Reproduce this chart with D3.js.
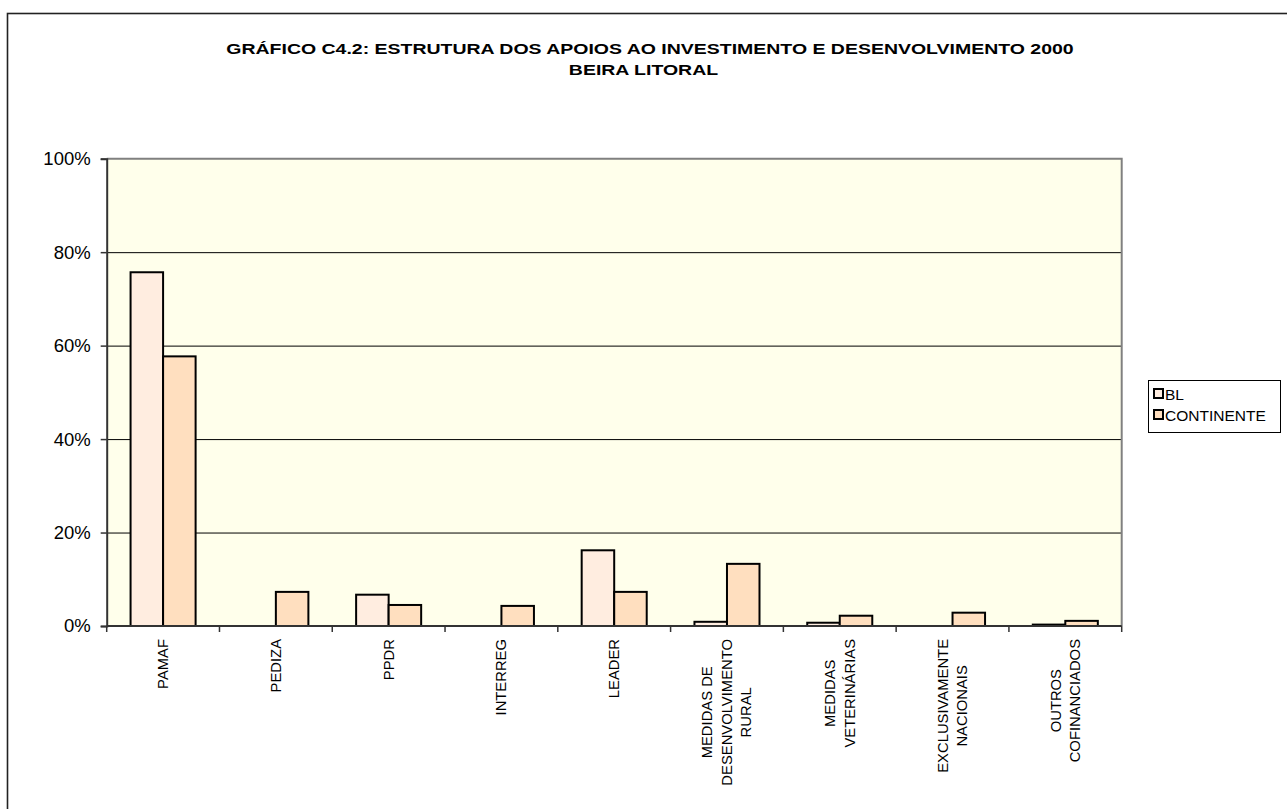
<!DOCTYPE html>
<html>
<head>
<meta charset="utf-8">
<script src="https://cdn.jsdelivr.net/npm/d3@7"></script>
<style>
  body { margin: 0; background: #fff; }
  text { font-family: "Liberation Sans", Arial, sans-serif; fill: #000; }
</style>
</head>
<body>
<div id="chart"></div>
<script>
// data (percent)
var categories = ["PAMAF", "PEDIZA", "PPDR", "INTERREG", "LEADER",
  "MEDIDAS DE|DESENVOLVIMENTO|RURAL", "MEDIDAS|VETERINÁRIAS",
  "EXCLUSIVAMENTE|NACIONAIS", "OUTROS|COFINANCIADOS"];
var seriesNames = ["BL", "CONTINENTE"];
var blValues = [75.7, 0, 6.7, 0, 16.2, 0.9, 0.7, 0, 0.3];
var contValues = [57.7, 7.3, 4.5, 4.3, 7.3, 13.3, 2.2, 2.85, 1.1];
var yTicks = [0, 20, 40, 60, 80, 100];
var titleLines = ["GRÁFICO C4.2: ESTRUTURA DOS APOIOS AO INVESTIMENTO E DESENVOLVIMENTO 2000", "BEIRA LITORAL"];

var colors = ["#FFEDE0", "#FFDFBF"];

var W = 1287, H = 809;
var plot = {left: 106.7, right: 1121.7, top: 158.7, bottom: 626};

var svg = d3.select("#chart").append("svg")
    .attr("width", W)
    .attr("height", H);

// outer chart border (runs off the page bottom/right)
svg.append("rect")
    .attr("x", 7.5).attr("y", 13.5)
    .attr("width", 1320).attr("height", 830)
    .attr("fill", "#fff")
    .attr("stroke", "#222")
    .attr("stroke-width", 1.6);

// title - the original is drawn wide, so stretch it horizontally
var titleG = svg.append("g")
    .attr("transform", "translate(650,0) scale(1.3,1)");
titleG.selectAll(".title")
    .data(titleLines)
  .enter().append("text")
    .attr("class", "title")
    .attr("x", function(d, i) { return i ? -5 : 0; })
    .attr("y", function(d, i) { return 53.8 + i * 21.5; })
    .attr("text-anchor", "middle")
    .style("font-weight", "bold")
    .style("font-size", "15px")
    .text(function(d) { return d; });

var x0 = d3.scaleBand()
    .domain(categories)
    .range([plot.left, plot.right])
    .padding(0);

var x1 = d3.scaleBand()
    .domain(seriesNames)
    .range([0, x0.bandwidth()])
    .paddingInner(0)
    .paddingOuter(0.734);

var y = d3.scaleLinear()
    .domain([0, 100])
    .range([plot.bottom, plot.top]);

// plot background
svg.append("rect")
    .attr("x", plot.left).attr("y", plot.top)
    .attr("width", plot.right - plot.left)
    .attr("height", plot.bottom - plot.top)
    .attr("fill", "#FFFFEB");

// gridlines
svg.append("g")
    .attr("transform", "translate(" + plot.left + ",0)")
    .call(d3.axisLeft(y).tickValues([20, 40, 60, 80]).tickSize(-(plot.right - plot.left)).tickFormat(""))
    .call(function(g) { g.select(".domain").remove(); })
    .selectAll("line")
    .attr("stroke", "#000")
    .attr("stroke-width", 1);

// top & right plot border
svg.append("path")
    .attr("d", "M" + plot.left + "," + plot.top + "H" + plot.right + "V" + plot.bottom)
    .attr("fill", "none")
    .attr("stroke", "#808080")
    .attr("stroke-width", 2);

// bars
var rows = categories.map(function(c, i) {
  return {cat: c, values: [blValues[i], contValues[i]]};
});

svg.append("g").selectAll("g")
    .data(rows)
  .enter().append("g")
    .attr("transform", function(d) { return "translate(" + x0(d.cat) + ",0)"; })
  .selectAll("rect")
    .data(function(d) { return d.values.map(function(v, j) { return {s: seriesNames[j], v: v, j: j}; }); })
  .enter().filter(function(d) { return d.v > 0; }).append("rect")
    .attr("x", function(d) { return x1(d.s); })
    .attr("y", function(d) { return y(d.v); })
    .attr("width", x1.bandwidth())
    .attr("height", function(d) { return y(0) - y(d.v); })
    .attr("fill", function(d) { return colors[d.j]; })
    .attr("stroke", "#000")
    .attr("stroke-width", 2);

// y axis
var yAxis = svg.append("g")
    .attr("transform", "translate(" + plot.left + ",0)")
    .call(d3.axisLeft(y).tickValues(yTicks).tickSize(6).tickPadding(10)
      .tickFormat(function(d) { return d + "%"; }));
yAxis.select(".domain").attr("stroke", "#333").attr("stroke-width", 2);
yAxis.selectAll(".tick line").attr("stroke", "#333").attr("stroke-width", 1.5);
yAxis.selectAll("text")
    .style("font-size", "18.5px")
    .style("font-family", "'Liberation Sans', Arial, sans-serif")
    .attr("fill", "#000");

// x axis (ticks at category boundaries)
var xAxis = svg.append("g")
    .attr("transform", "translate(0," + plot.bottom + ")");
xAxis.append("line")
    .attr("x1", plot.left).attr("x2", plot.right)
    .attr("stroke", "#333").attr("stroke-width", 2);
xAxis.selectAll(".xtick")
    .data(categories.map(function(c) { return x0(c); }).concat([plot.right]))
  .enter().append("line")
    .attr("x1", function(d) { return d; })
    .attr("x2", function(d) { return d; })
    .attr("y1", 0).attr("y2", 6)
    .attr("stroke", "#333").attr("stroke-width", 1.5);

// category labels, rotated, lines centred on the longest one
var lineGap = 19.5;
categories.forEach(function(c) {
  var lines = c.split("|");
  var cx = x0(c) + x0.bandwidth() / 2;
  var g = svg.append("g");
  var texts = g.selectAll("text")
      .data(lines)
    .enter().append("text")
      .style("font-size", "14.8px")
      .attr("text-anchor", "middle")
      .text(function(d) { return d; });
  var maxW = d3.max(texts.nodes(), function(n) { return n.getComputedTextLength(); });
  var cy = 639 + maxW / 2;
  texts.attr("transform", function(d, i) {
    var lx = cx + (i - (lines.length - 1) / 2) * lineGap + 5;
    return "translate(" + lx + "," + cy + ") rotate(-90)";
  });
});

// legend
var legend = svg.append("g");
legend.append("rect")
    .attr("x", 1148.5).attr("y", 380.5)
    .attr("width", 132).attr("height", 52)
    .attr("fill", "#fff")
    .attr("stroke", "#000")
    .attr("stroke-width", 1);
seriesNames.forEach(function(s, i) {
  legend.append("rect")
      .attr("x", 1154).attr("y", 389 + i * 21)
      .attr("width", 9).attr("height", 9)
      .attr("fill", colors[i])
      .attr("stroke", "#000")
      .attr("stroke-width", 2);
  legend.append("text")
      .attr("x", 1165).attr("y", 399.5 + i * 21)
      .style("font-size", "15.5px")
      .text(s);
});
</script>
</body>
</html>
